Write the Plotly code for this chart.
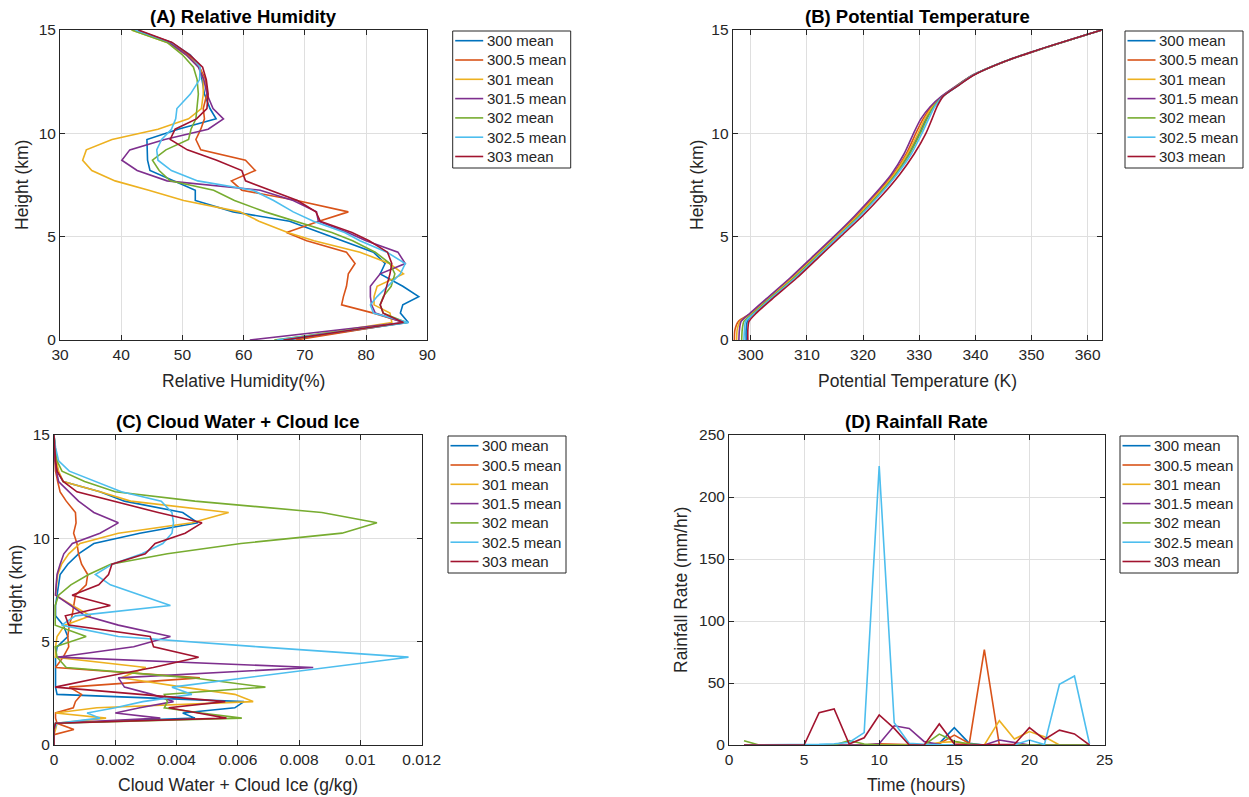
import plotly.graph_objects as go

W, H = 1249, 797
FONT = "Liberation Sans, Arial, Helvetica, sans-serif"
INK = "#262626"

SERIES = ["300 mean", "300.5 mean", "301 mean", "301.5 mean", "302 mean", "302.5 mean", "303 mean"]
COLORS = ["#0072BD", "#D95319", "#EDB120", "#7E2F8E", "#77AC30", "#4DBEEE", "#A2142F"]

# ---------------- (A) relative humidity (%) on height levels (km)
h_rh = [0, 0.85, 1.3, 1.7, 2.1, 2.6, 3.2, 3.7, 4.25, 4.8, 5.2, 5.75, 6.2, 6.75, 7.25,
        7.7, 8.2, 8.7, 9.2, 9.7, 10.2, 10.7, 11.2, 11.9, 12.6, 13.2, 13.8, 14.4, 15.0]
rh_300 = [67, 86.9, 85.6, 86, 88.6, 86, 82.3, 83.1, 81.2, 76.2, 72.4, 67.5, 58.3, 52.1, 52.1,
          48.5, 44.7, 44.3, 44.3, 44.2, 49.3, 55.5, 54.5, 53.6, 53.2, 52.8, 50.8, 48, 42.5]
rh_300_5 = [68.5, 86.3, 81.2, 76, 76.3, 76.8, 77.1, 78.2, 76.8, 70.3, 67, 72.3, 77.1, 68.7, 59.7,
            58, 61.9, 60.3, 53, 52.2, 53, 53.6, 53.4, 54, 53.8, 52.8, 51, 48.2, 42.5]
rh_301 = [66, 84.2, 83.9, 81.3, 81.3, 81.8, 86.1, 83.8, 79, 71.5, 67.2, 62.5, 59.4, 50.2, 44.5,
          39, 35.2, 33.7, 34.3, 38.5, 46, 51, 53.1, 53.4, 53.4, 52.8, 50.6, 47.5, 41.7]
rh_301_5 = [61, 86.1, 81.5, 80.9, 80.7, 80.7, 82.3, 86.4, 85.2, 80, 77, 72.2, 71.9, 68.1, 62.7,
            47.5, 42.6, 40.1, 41.4, 47.1, 54.2, 56.7, 55, 54, 53.5, 52.6, 50.6, 47.8, 42.3]
rh_302 = [65, 86.6, 82.8, 82.3, 82.8, 84.1, 84.7, 83.9, 81.5, 77.8, 74.4, 68.3, 63.5, 58.5, 55.1,
          48, 46.2, 45.1, 47.3, 51, 51.4, 52.2, 52.4, 52.6, 52.4, 51.8, 50, 47.5, 41.7]
rh_302_5 = [65.4, 86.9, 81.2, 80.7, 81.8, 83.6, 85.6, 86.4, 83.4, 79, 76.5, 71.4, 68.1, 64.9, 61.5,
            52.5, 48.2, 46, 45.8, 46.6, 48.2, 48.9, 49.1, 51.3, 52.8, 52.9, 51.3, 48.2, 42.3]
rh_303 = [66.5, 86.1, 82.8, 82.3, 82.9, 83.4, 83.9, 84.2, 83.5, 80.5, 77.7, 72.5, 71.8, 68.8, 64.5,
          60.3, 59.7, 55.6, 50.8, 48, 48.8, 52.3, 54, 54.2, 53.9, 53.3, 51.2, 48.3, 42.8]

# ---------------- (B) potential temperature (K)
h_th = [0, 0.5, 0.9, 1.3, 2.0, 3.0, 4.0, 5.0, 6.0, 7.0, 8.0, 9.0, 10.0, 10.7, 11.3,
        11.8, 12.3, 12.8, 13.5, 14.0, 15.0]
th_300 = [299.2, 299.2, 299.4, 300.5, 303.3, 307.5, 311.4, 315.3, 319.1, 322.6, 325.7, 328.1, 330.0,
          331.2, 332.5, 334.2, 336.8, 339.5, 345.4, 350.8, 362.5]
th_300_5 = [297.1, 297.2, 297.8, 300.1, 303.0, 307.2, 311.1, 315.0, 318.8, 322.2, 325.3, 327.7, 329.4,
            330.7, 332.2, 334.1, 336.7, 339.4, 345.5, 350.8, 362.5]
th_301 = [297.5, 297.6, 298.1, 300.3, 303.2, 307.4, 311.3, 315.2, 319.0, 322.4, 325.5, 327.9, 329.8,
          331.0, 332.4, 334.2, 336.7, 339.5, 345.5, 350.8, 362.5]
th_301_5 = [297.9, 298.0, 298.3, 299.9, 302.8, 307.0, 310.9, 314.8, 318.5, 321.9, 325.0, 327.3, 329.0,
            330.3, 332.0, 334.0, 336.6, 339.4, 345.5, 350.8, 362.5]
th_302 = [298.4, 298.5, 298.8, 300.5, 303.4, 307.7, 311.6, 315.5, 319.3, 322.7, 325.8, 328.3, 330.2,
          331.4, 332.6, 334.3, 336.8, 339.5, 345.4, 350.8, 362.5]
th_302_5 = [298.8, 298.9, 299.1, 300.7, 303.6, 307.9, 311.8, 315.6, 319.5, 322.9, 326.0, 328.6, 330.5,
            331.7, 332.8, 334.3, 336.9, 339.5, 345.4, 350.7, 362.5]
th_303 = [299.5, 299.5, 299.7, 301.0, 303.9, 308.2, 312.1, 316.0, 319.9, 323.4, 326.5, 329.1, 331.2,
          332.3, 333.2, 334.3, 336.9, 339.6, 345.4, 350.7, 362.5]

# ---------------- (C) cloud water + cloud ice (g/kg)
h_cw = [0, 0.5, 0.75, 1.05, 1.3, 1.55, 1.8, 2.1, 2.45, 2.8, 3.25, 3.75, 4.25, 4.75, 5.25, 5.8, 6.25,
        6.75, 7.25, 7.75, 8.25, 8.75, 9.25, 9.75, 10.25, 10.75, 11.25, 11.8, 12.25, 12.75, 13.25,
        13.75, 14.4, 15]
cw_300 = [0, 0, 0, 0.00005, 0.0046, 0.0042, 0.0059, 0.0062, 0.0001, 0.00005, 0.00005, 0.00005,
          0.00005, 0.0001, 0.00045, 0.0003, 0.00005, 0.00005, 0.0001, 0.00015, 0.0002, 0.00045,
          0.0008, 0.0013, 0.0028, 0.0047, 0.0042, 0.0023, 0.0015, 0.0003, 0.00012, 0.00008, 0.00003, 0]
cw_300_5 = [0, 0, 0.00065, 0.0001, 0.00005, 0.00005, 0.00063, 0.0007, 0.0009, 0.0005, 0.00476,
            0.00005, 0.0003, 0.00048, 0.00045, 0.0005, 0.00059, 0.00065, 0.0007, 0.00105, 0.0011,
            0.0009, 0.0008, 0.00075, 0.00064, 0.00072, 0.0007, 0.0004, 0.0002, 0.00012, 0.00005,
            0.00003, 0.00001, 0]
cw_301 = [0, 0, 0.00005, 0.0001, 0.0017, 0.00005, 0.0014, 0.0065, 0.0059, 0.0042, 0.0022, 0.003,
          0.00005, 0.00005, 0.0001, 0.00035, 0.0012, 0.0006, 0.00005, 0.00008, 0.00012, 0.00025,
          0.00048, 0.00085, 0.0021, 0.0045, 0.0057, 0.0025, 0.0015, 0.0003, 0.00015, 0.00008,
          0.00003, 0]
cw_301_5 = [0, 0, 0, 0.00005, 0.00347, 0.002, 0.0028, 0.0039, 0.0032, 0.0023, 0.0021, 0.00846,
            0.0001, 0.0026, 0.0038, 0.0021, 0.00102, 0.00055, 0.00005, 0.00007, 0.0001, 0.0002,
            0.00032, 0.0006, 0.0015, 0.0021, 0.0013, 0.0008, 0.00048, 0.00015, 0.00008, 0.00004,
            0.00002, 0]
cw_302 = [0, 0, 0, 0.00005, 0.00613, 0.0048, 0.0036, 0.0037, 0.0036, 0.0069, 0.0045, 0.0004,
          0.0001, 0.00004, 0.00105, 0.00004, 0.00004, 0.00004, 0.00015, 0.00055, 0.00113, 0.00185,
          0.0037, 0.0061, 0.0094, 0.01054, 0.00874, 0.0046, 0.002, 0.001, 0.00026, 0.0001,
          0.00003, 0]
cw_302_5 = [0, 0, 0, 0.0001, 0.0015, 0.00108, 0.002, 0.0029, 0.0045, 0.00385, 0.0062, 0.009,
            0.01157, 0.0067, 0.0021, 0.00025, 0.0007, 0.0038, 0.00285, 0.00184, 0.00135, 0.0019,
            0.00287, 0.00355, 0.00385, 0.0039, 0.00385, 0.0035, 0.0022, 0.00135, 0.0005, 0.00015,
            0.00005, 0]
cw_303 = [0, 0, 0, 0.00005, 0.00563, 0.0047, 0.00374, 0.00559, 0.0029, 0.00004, 0.0015, 0.00324,
          0.00472, 0.00325, 0.00314, 0.00048, 0.00037, 0.00184, 0.00059, 0.00146, 0.00178, 0.00189,
          0.00298, 0.0033, 0.00428, 0.00483, 0.0034, 0.0019, 0.00075, 0.0003, 0.0001, 0.00005,
          0.00002, 0]

# ---------------- (D) rainfall rate (mm/hr) by hour
hours = list(range(1, 25))
rr_300 = [0, 0, 0, 0, 0, 0, 0, 0, 0, 0, 0, 0, 0, 1.3, 14, 1.3, 0, 0, 0, 0, 0, 0, 0, 0]
rr_300_5 = [0, 0, 0, 0, 0, 0, 0, 0, 0, 1, 0.5, 0, 0, 1, 8, 1.3, 77, 0, 0, 0, 0, 0, 0, 0]
rr_301 = [0, 0, 0, 0, 0, 0, 0, 0, 0, 0, 0, 0, 0, 2, 2.7, 0.5, 0, 19.6, 4.8, 10.8, 6.7, 0, 0, 0]
rr_301_5 = [0, 0, 0, 0, 0, 0, 0, 0, 0, 1, 15.5, 13.4, 2.7, 0.3, 0, 0, 0, 4, 2, 0, 0, 0, 0, 0]
rr_302 = [3.5, 0, 0, 0, 0, 0, 0, 3.5, 0.8, 0, 0, 0, 0, 8.8, 3, 0.8, 0, 0, 0, 0, 0, 0, 0, 0]
rr_302_5 = [0, 0, 0, 0, 0, 0.5, 1, 2, 10, 225, 18, 1.3, 0.5, 0, 0, 0, 0, 0, 0, 4, 0.3, 49, 55.6, 1]
rr_303 = [0, 0, 0, 0, 0, 26, 29, 0.8, 5.8, 24.2, 13.4, 0, 0, 17, 0.8, 0, 0, 0, 0.5, 14, 4.5, 12, 8.9, 0]

rh_all = [rh_300, rh_300_5, rh_301, rh_301_5, rh_302, rh_302_5, rh_303]
th_all = [th_300, th_300_5, th_301, th_301_5, th_302, th_302_5, th_303]
cw_all = [cw_300, cw_300_5, cw_301, cw_301_5, cw_302, cw_302_5, cw_303]
rr_all = [rr_300, rr_300_5, rr_301, rr_301_5, rr_302, rr_302_5, rr_303]


def fx(px):
    return px / W


def fy(py):
    return 1 - py / H


fig = go.Figure()
LW = 1.6
for i in range(7):
    c = COLORS[i]
    fig.add_trace(go.Scatter(x=rh_all[i], y=h_rh, mode="lines", line=dict(color=c, width=LW),
                             xaxis="x", yaxis="y", showlegend=False, name=SERIES[i]))
    fig.add_trace(go.Scatter(x=th_all[i], y=h_th, mode="lines",
                             line=dict(color=c, width=LW, shape="spline", smoothing=0.7),
                             xaxis="x2", yaxis="y2", showlegend=False, name=SERIES[i]))
    fig.add_trace(go.Scatter(x=cw_all[i], y=h_cw, mode="lines", line=dict(color=c, width=LW),
                             xaxis="x3", yaxis="y3", showlegend=False, name=SERIES[i]))
    fig.add_trace(go.Scatter(x=hours, y=rr_all[i], mode="lines", line=dict(color=c, width=LW),
                             xaxis="x4", yaxis="y4", showlegend=False, name=SERIES[i]))

TICK = 15.5
LAB = 17.5
TTL = 18.5
axis_style = dict(showline=True, linecolor=INK, linewidth=1, mirror="ticks", ticks="inside",
                  ticklen=5, tickcolor=INK, tickwidth=1, showgrid=True, gridcolor="#dfdfdf",
                  gridwidth=1, zeroline=False, automargin=False,
                  tickfont=dict(family=FONT, size=TICK, color=INK))

# plot areas in pixels: (left, right, top, bottom)
boxes = {
    "A": (60, 427.3, 30, 340),
    "B": (732.7, 1101.7, 30, 340),
    "C": (54, 421.7, 435, 745),
    "D": (729, 1104.5, 435, 745),
}


def dom(key):
    l, r, t, b = boxes[key]
    return [fx(l), fx(r)], [fy(b), fy(t)]


xa, ya = dom("A")
xb, yb = dom("B")
xc, yc = dom("C")
xd, yd = dom("D")

fig.update_layout(
    width=W, height=H, margin=dict(l=0, r=0, t=0, b=0),
    paper_bgcolor="white", plot_bgcolor="white",
    font=dict(family=FONT, color=INK),
    xaxis=dict(axis_style, domain=xa, anchor="y", range=[30, 90], tickvals=[30, 40, 50, 60, 70, 80, 90]),
    yaxis=dict(axis_style, domain=ya, anchor="x", range=[0, 15], tickvals=[0, 5, 10, 15]),
    xaxis2=dict(axis_style, domain=xb, anchor="y2", range=[296.8, 362.5],
                tickvals=[300, 310, 320, 330, 340, 350, 360]),
    yaxis2=dict(axis_style, domain=yb, anchor="x2", range=[0, 15], tickvals=[0, 5, 10, 15]),
    xaxis3=dict(axis_style, domain=xc, anchor="y3", range=[0, 0.012],
                tickvals=[0, 0.002, 0.004, 0.006, 0.008, 0.01, 0.012],
                ticktext=["0", "0.002", "0.004", "0.006", "0.008", "0.01", "0.012"]),
    yaxis3=dict(axis_style, domain=yc, anchor="x3", range=[0, 15], tickvals=[0, 5, 10, 15]),
    xaxis4=dict(axis_style, domain=xd, anchor="y4", range=[0, 25], tickvals=[0, 5, 10, 15, 20, 25]),
    yaxis4=dict(axis_style, domain=yd, anchor="x4", range=[0, 250],
                tickvals=[0, 50, 100, 150, 200, 250]),
)

annotations = []
shapes = []


def text(s, x, y, size, bold=False, angle=0, xanchor="center"):
    annotations.append(dict(
        text=f"<b>{s}</b>" if bold else s, x=fx(x), y=fy(y), xref="paper", yref="paper",
        showarrow=False, xanchor=xanchor, yanchor="middle", textangle=angle,
        font=dict(family=FONT, size=size, color="black" if bold else INK)))


# panel titles
text("(A) Relative Humidity", 243.6, 16, TTL, bold=True)
text("(B) Potential Temperature", 917.2, 16, TTL, bold=True)
text("(C) Cloud Water + Cloud Ice", 237.8, 421, TTL, bold=True)
text("(D) Rainfall Rate", 916.8, 421, TTL, bold=True)

# axis titles
text("Relative Humidity(%)", 243.6, 381, LAB)
text("Potential Temperature (K)", 917.2, 381, LAB)
text("Cloud Water + Cloud Ice (g/kg)", 237.8, 785, LAB)
text("Time (hours)", 916.8, 785, LAB)
text("Height (km)", 22, 185, LAB, angle=-90)
text("Height (km)", 697, 185, LAB, angle=-90)
text("Height (km)", 16, 590, LAB, angle=-90)
text("Rainfall Rate (mm/hr)", 681, 590, LAB, angle=-90)

# legend boxes, one per panel
LEG_W, LEG_H, ROW = 118, 137, 19.3
for bx, by in [(452.7, 31), (1125, 31), (448, 436), (1120, 436)]:
    shapes.append(dict(type="rect", xref="paper", yref="paper",
                       x0=fx(bx), x1=fx(bx + LEG_W), y0=fy(by + LEG_H), y1=fy(by),
                       line=dict(color=INK, width=1), fillcolor="white", layer="above"))
    for i, name in enumerate(SERIES):
        yy = by + 9.7 + ROW * i
        shapes.append(dict(type="line", xref="paper", yref="paper",
                           x0=fx(bx + 2.5), x1=fx(bx + 30.5), y0=fy(yy), y1=fy(yy),
                           line=dict(color=COLORS[i], width=LW), layer="above"))
        text(name, bx + 32, yy, 15, xanchor="left")

fig.update_layout(annotations=annotations, shapes=shapes)
fig.write_html("out.html")
